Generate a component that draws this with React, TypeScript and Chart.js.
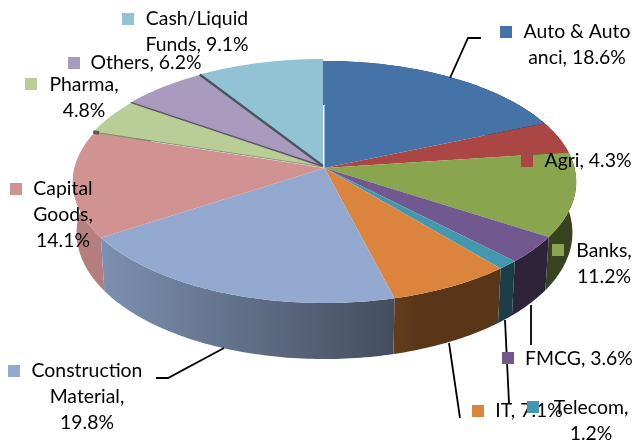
import React, { useEffect, useRef } from "react";
import { Chart, registerables } from "chart.js";

Chart.register(...registerables);

const categories = ["Auto & Auto anci", "Agri", "Banks", "FMCG", "Telecom", "IT", "Construction Material", "Capital Goods", "Pharma", "Others", "Cash/Liquid Funds"];
const shares = [18.6, 4.3, 11.2, 3.6, 1.2, 7.1, 19.8, 14.1, 4.8, 6.2, 9.1];
const colours = ["#4573A7", "#AA4643", "#89A54E", "#71588F", "#4198AF", "#DB843D", "#93A9CF", "#D19392", "#B9CD96", "#A99BBD", "#91C3D5"];

// Label layout: words per line, centre x of the text block, first line centre y, swatch left/top
const labelLayout = [
  { words: [3, 2], cx: 577, y: 32, sx: 500, sy: 26 },
  { words: [2], cx: 588, y: 161, sx: 521, sy: 155 },
  { words: [1, 1], cx: 604, y: 251, sx: 552, sy: 244 },
  { words: [2], cx: 579, y: 359, sx: 502, sy: 352 },
  { words: [1, 1], cx: 591, y: 408, sx: 527, sy: 401 },
  { words: [2], cx: 529, y: 411, sx: 472, sy: 405 },
  { words: [1, 1, 1], cx: 87, y: 371, sx: 8, sy: 365 },
  { words: [1, 1, 1], cx: 63, y: 189, sx: 10, sy: 183 },
  { words: [1, 1], cx: 84, y: 85, sx: 25, sy: 78 },
  { words: [2], cx: 146, y: 63, sx: 68, sy: 57 },
  { words: [1, 2], cx: 197, y: 19, sx: 122, sy: 13 },
];

const leaderLines = [
  [[450, 78], [468, 38], [481, 38]],
  [[224, 348], [168, 378], [156, 378]],
  [[449, 343], [460, 418]],
  [[505, 320], [509, 403]],
  [[531, 305], [531, 345]],
];

// Small displacement of the slices at the back left (exploded look)
const sliceShift = [[0, 0], [0, 0], [0, 0], [0, 0], [0, 0], [0, 0], [0, 0], [0, 0], [-1, -1], [-1.5, -1.5], [-1.5, -2]];

const PERSPECTIVE = 0.1157;
const SQUASH = 0.4776;
const DEPTH_BASE = 50;
const DEPTH_NEAR = 6;
const BOTTOM_SCALE = 0.985;
const STEP = Math.PI / 180;

function project(a: number, r: number, cx: number, cy: number) {
  const u = Math.cos(a);
  const v = Math.sin(a);
  const w = 1 - PERSPECTIVE * v;
  return { x: cx + (r * u) / w, y: cy + (r * SQUASH * v) / w, v };
}

function angles(start: number, end: number) {
  const list: number[] = [];
  for (let a = start; a < end; a += STEP) list.push(a);
  list.push(end);
  return list;
}

function rgb(hex: string) {
  return [1, 3, 5].map((i) => parseInt(hex.slice(i, i + 2), 16));
}

const wallLight: [number, number][] = [[0, 0.88], [0.06, 0.85], [0.63, 0.46], [0.68, 0.41], [1, 0.4]];

const pie3d = {
  id: "pie3d",
  beforeDatasetsDraw(chart: any) {
    const { ctx } = chart;
    const arcs = chart.getDatasetMeta(0).data;
    const order = arcs.map((_: any, i: number) => i).sort((a: number, b: number) => {
      const m = (k: number) => Math.sin((arcs[k].startAngle + arcs[k].endAngle) / 2);
      return m(a) - m(b);
    });
    // side walls, back to front
    for (const i of order) {
      const arc = arcs[i];
      const base = rgb(colours[i]);
      const g = ctx.createLinearGradient(70, 0, 580, 0);
      for (const [stop, f] of wallLight) {
        g.addColorStop(stop, `rgb(${base.map((c) => Math.round(c * f)).join(",")})`);
      }
      const list = angles(arc.startAngle, arc.endAngle);
      ctx.beginPath();
      list.forEach((a, n) => {
        const p = project(a, arc.outerRadius, arc.x, arc.y);
        if (n === 0) ctx.moveTo(p.x, p.y);
        else ctx.lineTo(p.x, p.y);
      });
      [...list].reverse().forEach((a) => {
        const p = project(a, arc.outerRadius, arc.x, arc.y);
        ctx.lineTo(arc.x + (p.x - arc.x) * BOTTOM_SCALE, p.y + DEPTH_BASE + DEPTH_NEAR * p.v);
      });
      ctx.closePath();
      ctx.fillStyle = g;
      ctx.fill();
    }
    // top faces
    arcs.forEach((arc: any, i: number) => {
      const cx = arc.x + sliceShift[i][0];
      const cy = arc.y + sliceShift[i][1];
      ctx.beginPath();
      ctx.moveTo(cx, cy);
      angles(arc.startAngle, arc.endAngle).forEach((a) => {
        const p = project(a, arc.outerRadius, cx, cy);
        ctx.lineTo(p.x, p.y);
      });
      ctx.closePath();
      ctx.fillStyle = colours[i];
      ctx.fill();
    });
    // dark inner faces showing along the displaced back slices
    const edge = (i: number, width: number, colour: string, from = 0) => {
      const arc = arcs[i];
      const cx = arc.x + sliceShift[i][0];
      const cy = arc.y + sliceShift[i][1];
      const p = project(arc.startAngle, arc.outerRadius, cx, cy);
      ctx.beginPath();
      ctx.moveTo(cx + (p.x - cx) * from, cy + (p.y - cy) * from);
      ctx.lineTo(p.x, p.y);
      ctx.lineWidth = width;
      ctx.strokeStyle = colour;
      ctx.stroke();
    };
    edge(10, 2.2, "#46555f");
    edge(9, 1.4, "#5a5468");
    edge(8, 0.8, "#77806a");
    edge(8, 3.5, "#4f5f45", 0.975);
    return false;
  },
  afterDraw(chart: any) {
    const { ctx } = chart;
    ctx.save();
    ctx.strokeStyle = "#000";
    ctx.lineWidth = 1.8;
    for (const line of leaderLines) {
      ctx.beginPath();
      line.forEach(([x, y], n) => (n === 0 ? ctx.moveTo(x, y) : ctx.lineTo(x, y)));
      ctx.stroke();
    }
    ctx.font = "19.4px Lato";
    ctx.textAlign = "center";
    ctx.textBaseline = "middle";
    const drawOrder = [5, 4, 3, 2, 1, 0, 6, 7, 8, 9, 10];
    for (const i of drawOrder) {
      const l = labelLayout[i];
      ctx.fillStyle = colours[i];
      ctx.fillRect(l.sx, l.sy, 12, 12);
      const words = `${categories[i]}, ${shares[i].toFixed(1)}%`.split(" ");
      ctx.fillStyle = "#000";
      let at = 0;
      l.words.forEach((count, row) => {
        const text = words.slice(at, at + count).join(" ");
        at += count;
        ctx.fillText(text, l.cx, l.y + row * 26);
      });
    }
    ctx.restore();
  },
};

export default function App() {
  const ref = useRef<HTMLCanvasElement>(null);
  useEffect(() => {
    document.body.style.margin = "0";
    const chart = new Chart(ref.current!, {
      type: "pie",
      data: {
        labels: categories,
        datasets: [{ data: shares, backgroundColor: colours, borderWidth: 0 }],
      },
      options: {
        animation: false,
        responsive: false,
        events: [],
        radius: 250,
        layout: { padding: { left: 13, right: 0, top: 0, bottom: 107 } },
        plugins: { legend: { display: false }, tooltip: { enabled: false }, title: { display: false } },
      } as any,
      plugins: [pie3d as any],
    });
    return () => chart.destroy();
  }, []);
  return <canvas ref={ref} width={636} height={443} style={{ display: "block" }} />;
}
